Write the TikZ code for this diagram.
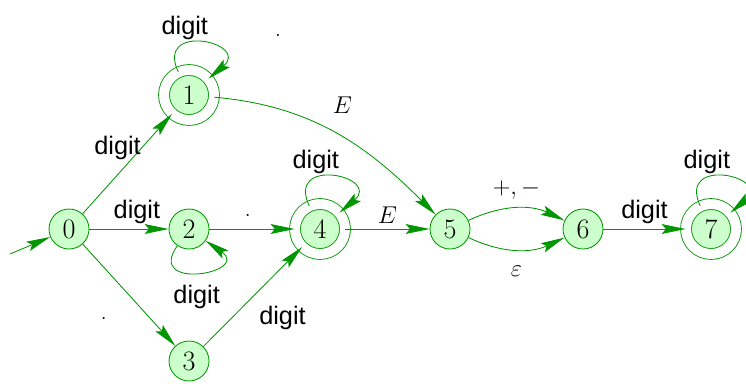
\documentclass[tikz,border=0pt]{standalone}
\usepackage{fontspec}
\setsansfont{Liberation Sans}
\usetikzlibrary{arrows.meta}
\definecolor{stategreen}{RGB}{0,150,0}
\definecolor{statefill}{RGB}{204,255,204}
\begin{document}
\begin{tikzpicture}[line width=0.6pt,
  >={Stealth[length=17pt,width=7pt,inset=3pt]},
  state/.style={circle,draw=stategreen,fill=statefill,minimum size=1cm,inner sep=0pt,font=\fontsize{20}{24}\selectfont},
  accept/.style={state,double=white,double distance=0.25cm,minimum size=1.25cm},
  trans/.style={->,draw=stategreen},
  mlbl/.style={font=\fontsize{18}{22}\selectfont},
  lbl/.style={font=\fontsize{18}{22}\selectfont\sffamily}]

       \useasboundingbox (0,0) rectangle (18.65,9.575);

       \node[state]  (0) at (1.725, 3.85) {0};
       \node[accept] (1) at (4.725, 7.2)  {1};
       \node[state]  (2) at (4.725, 3.85) {2};
       \node[state]  (3) at (4.725, 0.55) {3};
       \node[accept] (4) at (8, 3.85)     {4};
       \node[state]  (5) at (11.25, 3.85) {5};
       \node[state]  (6) at (14.575, 3.85) {6};
       \node[accept] (7) at (17.775, 3.85) {7};
       \coordinate (start) at (0.25, 3.225);
       \node[mlbl] (dot) at (6.95, 8.7) {.};

       \draw[trans] (start) -- (0);
       \draw[trans] (0) -- (1) node[pos=0.66, left=-3pt, lbl] {digit};
       \draw[trans] (0) -- (2) node[pos=0.6, above, lbl] {digit};
       \draw[trans] (0) -- (3) node[midway, below left=12pt, mlbl] {.};
       \draw[trans] (2) -- (4) node[midway, above=5pt, mlbl, xshift=-3pt] {.};
       \draw[trans] (3) -- (4) node[midway, below right=3pt, lbl, xshift=-2pt] {digit};
       \draw[trans] (1) to[out=-5, in=135] node[pos=0.43, above right=5pt, mlbl] {$E$} (5);
       \draw[trans] (4) -- (5) node[midway, above, mlbl] {$E$};
       \draw[trans] (5) to[bend left=25] node[midway, above=3pt, mlbl] {$+,-$} (6);
       \draw[trans] (5) to[bend right=25] node[midway, below=8pt, mlbl] {$\varepsilon$} (6);
       \draw[trans] (6) -- (7) node[midway, above, lbl] {digit};

       \draw[trans] (1) to[out=115, in=40, min distance=1.4cm] node[pos=0.33, above, lbl, inner sep=2pt] {digit} (1);
       \draw[trans] (4) to[out=115, in=40, min distance=1.4cm] node[pos=0.33, above, lbl, inner sep=2pt] {digit} (4);
       \draw[trans] (7) to[out=115, in=40, min distance=1.4cm] node[pos=0.33, above, lbl, inner sep=2pt] {digit} (7);
       \draw[trans] (2) to[out=-125, in=-35, min distance=1.4cm] node[pos=0.5, below=7pt, lbl, inner sep=2pt] {digit} (2);
     \end{tikzpicture}
\end{document}
